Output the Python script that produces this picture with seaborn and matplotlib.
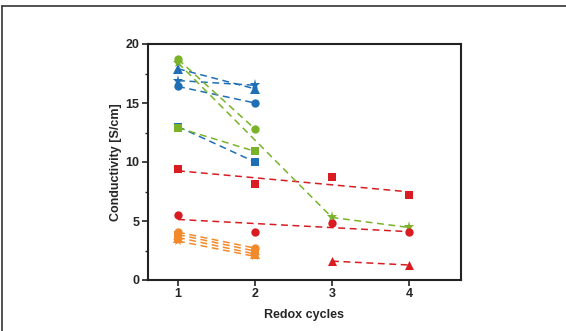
import matplotlib
matplotlib.use("Agg")
import matplotlib.pyplot as plt
from matplotlib.lines import Line2D
from matplotlib.ticker import MultipleLocator
import seaborn as sns
import pandas as pd

sns.set_style("white")
plt.rcParams['font.family'] = ['Liberation Sans', 'DejaVu Sans']

# ---- data ----
blue_x = [1, 2]
blue_tri = [17.9, 16.2]
blue_star = [16.9, 16.5]
blue_circ = [16.4, 15.0]
blue_sq = [13.0, 10.0]

green_x = [1, 2]
green_circ = [18.7, 12.8]
green_sq = [12.9, 10.9]
green_star_x = [1, 3, 4]
green_star = [18.4, 5.3, 4.45]

orange_x = [1, 2]
orange_circ = [4.05, 2.7]
orange_sq = [3.85, 2.45]
orange_tri = [3.6, 2.2]
orange_star = [3.3, 2.0]

red_x = [1, 2, 3, 4]
red_sq = [9.4, 8.1, 8.75, 7.2]
red_circ = [5.5, 4.05, 4.8, 4.1]
red_tri_x = [3, 4]
red_tri = [1.6, 1.27]

xticks = [1, 2, 3, 4]
yticks = [0, 5, 10, 15, 20]

BLUE = "#1f6fb6"
GREEN = "#7ab32a"
ORANGE = "#f28a2c"
RED = "#d81c22"

fig = plt.figure(figsize=(5.66, 3.31), dpi=100)
ax = fig.add_axes([148/566, 51/331, (461-148)/566, (280-44)/331])

dash = (0, (4.5, 3))
ms = {'o': 6, 's': 5.6, '^': 6.5, '*': 8}

def conn(xs, ys, color, marker, z=3):
    df = pd.DataFrame({'x': xs, 'y': ys})
    sns.lineplot(data=df, x='x', y='y', ax=ax, color=color, marker=marker,
                 markersize=ms[marker], markeredgewidth=0, linewidth=1.1,
                 linestyle=dash, zorder=z, estimator=None, sort=False)

for ys, mk in [(orange_circ, 'o'), (orange_sq, 's'), (orange_tri, '^'), (orange_star, '*')]:
    conn(orange_x, ys, ORANGE, mk)
for ys, mk in [(blue_circ, 'o'), (blue_sq, 's'), (blue_star, '*')]:
    conn(blue_x, ys, BLUE, mk)
conn(green_star_x, green_star, GREEN, '*')
conn(green_x, green_circ, GREEN, 'o')
conn(green_x, green_sq, GREEN, 's')
conn(blue_x, blue_tri, BLUE, '^', z=4)

for xs, ys, mk in [(red_x, red_sq, 's'), (red_x, red_circ, 'o'), (red_tri_x, red_tri, '^')]:
    sns.regplot(x=xs, y=ys, ax=ax, ci=None, marker=mk, color=RED, truncate=True,
                scatter_kws={'s': (ms[mk])**2, 'linewidths': 0, 'alpha': 1, 'zorder': 3},
                line_kws={'linestyle': dash, 'linewidth': 1.1, 'zorder': 2})

ax.set_xlim(0.61, 4.675)
ax.set_ylim(0, 20)
ax.set_xticks(xticks)
ax.set_yticks(yticks)
ax.yaxis.set_minor_locator(MultipleLocator(2.5))
ax.set_xlabel("Redox cycles", fontsize=9, fontweight='bold', labelpad=6)
ax.set_ylabel("Conductivity [S/cm]", fontsize=9, fontweight='bold', labelpad=3)
for lab in ax.get_xticklabels() + ax.get_yticklabels():
    lab.set_fontweight('bold')
ax.tick_params(axis='both', which='major', direction='out', length=4, width=1.2,
               labelsize=9, color='#222222', left=True, bottom=True, pad=2)
ax.tick_params(axis='y', which='minor', direction='out', length=2.5, width=1.0,
               left=True, color='#222222')
for s in ax.spines.values():
    s.set_linewidth(1.5)
    s.set_color('#222222')

# outer frame fragments
fig.add_artist(Line2D([2/566, 1.0], [1-6/331, 1-6/331], transform=fig.transFigure,
                      color='#333333', linewidth=1.2))
fig.add_artist(Line2D([2/566, 2/566], [0, 1-6/331], transform=fig.transFigure,
                      color='#333333', linewidth=1.2))

fig.savefig("out.png", dpi=100)
